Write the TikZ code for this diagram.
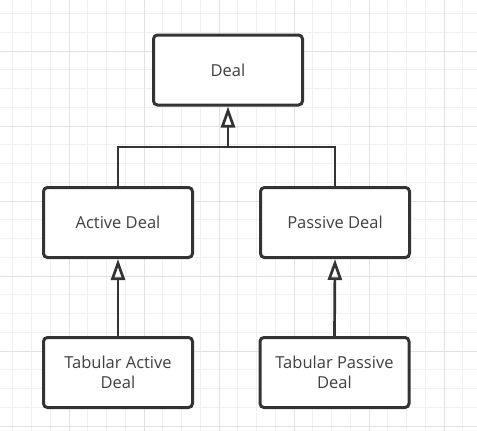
\documentclass[tikz,border=0pt]{standalone}
\usepackage{fontspec}
\setmainfont{Open Sans}
\usetikzlibrary{arrows.meta}
\definecolor{edge}{HTML}{333333}
\definecolor{txt}{HTML}{404040}
\definecolor{gridminor}{HTML}{F0F0F0}
\definecolor{gridmajor}{HTML}{E2E2E2}
\tikzset{
  classbox/.style={draw=edge,line width=3pt,rounded corners=4pt,fill=white,
    minimum width=149pt,minimum height=70pt,align=center,text=txt,
    font=\fontsize{16.5}{20}\selectfont},
  link/.style={draw=edge,line width=2.7pt},
  inherit/.style={link,-{Triangle[open,length=21pt,width=14pt]}}
}

\begin{document}
\begin{tikzpicture}[x=1pt,y=-1pt]
  \useasboundingbox (0,0) rectangle (477,431);
  \fill[white] (0,0) rectangle (477,431);
  % Grid
  \foreach \i in {0,...,24}
    \draw[gridminor,line width=1pt] ({12.75+18.75*\i},0) -- ++(0,431);
  \foreach \i in {0,...,22}
    \draw[gridminor,line width=1pt] (0,{13.5+18.75*\i}) -- ++(477,0);
  \foreach \x in {69,144,...,444}
    \draw[gridmajor,line width=1pt] (\x,0) -- ++(0,431);
  \foreach \y in {51,126,...,426}
    \draw[gridmajor,line width=1pt] (0,\y) -- ++(477,0);
  % Classes
  \node[classbox] (deal) at (228,70) {Deal};
  \node[classbox] (active) at (118,222.5) {Active Deal};
  \node[classbox] (passive) at (335,222.5) {Passive Deal};
  \node[classbox] (tabactive) at (118,372.5) {Tabular Active\\Deal};
  \node[classbox] (tabpassive) at (334.5,372.5) {Tabular Passive\\Deal};
  % Inheritance
  \coordinate (bar) at (228,147); % joint of the two branches
  \draw[link] (active.north) |- (bar) -| (passive.north);
  \draw[inherit] (bar) -- (deal.south);
  \draw[inherit] (tabactive.north) -- (active.south);
  \draw[inherit] (tabpassive.north) -- (passive.south);
\end{tikzpicture}
\end{document}
